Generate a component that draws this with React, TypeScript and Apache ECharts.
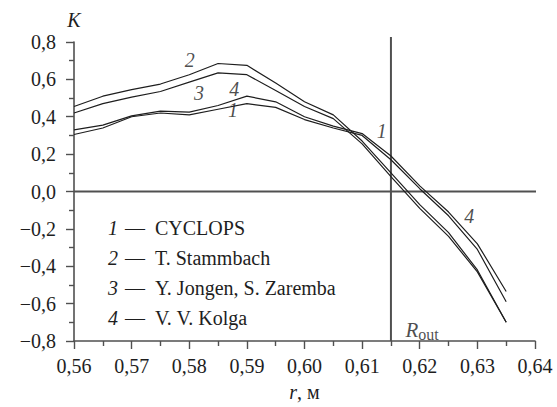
import React, { useEffect, useRef } from "react";
import * as echarts from "echarts";

// Radius grid, m
const radii = [0.56, 0.565, 0.57, 0.575, 0.58, 0.585, 0.59, 0.595, 0.6, 0.605, 0.61, 0.615, 0.62, 0.625, 0.63, 0.635];

// Coefficient K along the radius for each source
const cyclops = [0.305, 0.34, 0.4, 0.42, 0.41, 0.44, 0.47, 0.45, 0.385, 0.34, 0.3, 0.17, 0.015, -0.13, -0.31, -0.59];
const stammbach = [0.455, 0.51, 0.545, 0.575, 0.625, 0.685, 0.675, 0.58, 0.48, 0.41, 0.27, 0.1, -0.07, -0.22, -0.42, -0.7];
const jongen = [0.42, 0.47, 0.505, 0.535, 0.585, 0.635, 0.625, 0.54, 0.455, 0.39, 0.255, 0.08, -0.09, -0.24, -0.43, -0.7];
const kolga = [0.33, 0.355, 0.405, 0.43, 0.425, 0.46, 0.51, 0.48, 0.4, 0.35, 0.31, 0.19, 0.03, -0.11, -0.28, -0.535];

const seriesNames = ["CYCLOPS", "T. Stammbach", "Y. Jongen, S. Zaremba", "V. V. Kolga"];
const seriesValues = [cyclops, stammbach, jongen, kolga];

// Outer radius marker and where its caption sits
const rOut = 0.615;
const rOutCaption: [number, number] = [0.6204, -0.74];

// Curve number tags placed in data coordinates: [r, K, text]
const curveTags: [number, number, string][] = [
  [0.5801, 0.705, "2"],
  [0.5817, 0.528, "3"],
  [0.5878, 0.55, "4"],
  [0.5876, 0.437, "1"],
  [0.6134, 0.325, "1"],
  [0.6286, -0.13, "4"],
];

const SERIF = "Liberation Serif";
const INK = "#1e1e1e";
const AXIS = "#505050";

const fmtX = (v: number) => v.toFixed(2).replace(".", ",");
const fmtY = (v: number) => {
  const a = Math.abs(v) < 1e-9 ? 0 : v;
  return (a < 0 ? "\u2212" : "") + Math.abs(a).toFixed(1).replace(".", ",");
};

export default function App() {
  const ref = useRef<HTMLDivElement>(null);

  useEffect(() => {
    if (!ref.current) return;
    const chart = echarts.init(ref.current, undefined, { renderer: "svg" });

    const curves = seriesNames.map((name, i) => ({
      name,
      type: "line" as const,
      data: radii.map((r, j) => [r, seriesValues[i][j]]),
      symbol: "none",
      lineStyle: { color: INK, width: 1.2 },
      itemStyle: { color: INK },
      silent: true,
      z: 3,
    }));

    chart.setOption({
      animation: false,
      backgroundColor: "#ffffff",
      textStyle: { fontFamily: SERIF },
      grid: { left: 74, right: 22, top: 42, bottom: 66, containLabel: false },
      legend: {
        data: seriesNames,
        orient: "vertical",
        left: 98,
        top: 212,
        icon: "none",
        itemWidth: 0,
        itemGap: 8,
        selectedMode: false,
        formatter: (name: string) => `{n|${seriesNames.indexOf(name) + 1}}{g|\u2002}\u2014\u2002{t|${name}}`,
        textStyle: {
          fontFamily: SERIF,
          fontSize: 20,
          lineHeight: 22,
          color: INK,
          rich: {
            n: { fontFamily: SERIF, fontSize: 20, fontStyle: "italic", color: INK },
            g: { fontFamily: SERIF, fontSize: 14, color: INK },
            t: { fontFamily: SERIF, fontSize: 20, color: INK },
          },
        },
      },
      xAxis: {
        type: "value",
        min: 0.56,
        max: 0.64,
        interval: 0.01,
        name: "{i|r}{t|, м}",
        nameLocation: "middle",
        nameGap: 41,
        nameTextStyle: {
          fontFamily: SERIF,
          fontSize: 20,
          color: INK,
          rich: {
            i: { fontFamily: SERIF, fontSize: 20, fontStyle: "italic", color: INK },
            t: { fontFamily: SERIF, fontSize: 20, color: INK },
          },
        },
        axisLine: { show: true, onZero: false, lineStyle: { color: AXIS, width: 1.6 } },
        axisTick: { show: true, inside: false, length: 8, lineStyle: { color: AXIS, width: 1.4 } },
        minorTick: { show: true, splitNumber: 2, length: 5, lineStyle: { color: AXIS, width: 1.4 } },
        axisLabel: { formatter: fmtX, fontFamily: SERIF, fontSize: 20, color: INK, margin: 15 },
        splitLine: { show: false },
      },
      yAxis: {
        type: "value",
        min: -0.8,
        max: 0.8,
        interval: 0.2,
        name: "K",
        nameLocation: "end",
        nameGap: 12,
        nameTextStyle: { fontFamily: SERIF, fontSize: 20, fontStyle: "italic", color: INK, align: "center" },
        axisLine: { show: true, onZero: false, lineStyle: { color: AXIS, width: 1.6 } },
        axisTick: { show: true, inside: false, length: 8, lineStyle: { color: AXIS, width: 1.4 } },
        minorTick: { show: true, splitNumber: 2, length: 5, lineStyle: { color: AXIS, width: 1.4 } },
        axisLabel: { formatter: fmtY, fontFamily: SERIF, fontSize: 20, color: INK, margin: 18 },
        splitLine: { show: false },
      },
      series: [
        ...curves,
        {
          name: "zero",
          type: "line",
          data: [[0.56, 0], [0.6414, 0]],
          symbol: "none",
          clip: false,
          silent: true,
          lineStyle: { color: AXIS, width: 2 },
          z: 2,
        },
        {
          name: "Rout",
          type: "line",
          data: [[rOut, -0.8], [rOut, 0.827]],
          symbol: "none",
          clip: false,
          silent: true,
          lineStyle: { color: AXIS, width: 2 },
          z: 2,
        },
        {
          name: "RoutCaption",
          type: "scatter",
          data: [rOutCaption],
          symbolSize: 0,
          silent: true,
          label: {
            show: true,
            position: "inside",
            formatter: "{r|R}{s|out}",
            rich: {
              r: { fontFamily: SERIF, fontSize: 21, fontStyle: "italic", color: INK },
              s: { fontFamily: SERIF, fontSize: 16, color: INK, padding: [9, 0, 0, 0] },
            },
          },
          z: 4,
        },
        {
          name: "tags",
          type: "scatter",
          data: curveTags,
          symbolSize: 0,
          silent: true,
          label: {
            show: true,
            position: "inside",
            formatter: (p: any) => p.data[2],
            fontFamily: SERIF,
            fontSize: 20,
            fontStyle: "italic",
            color: INK,
          },
          z: 4,
        },
      ],
    });

    return () => chart.dispose();
  }, []);

  return <div ref={ref} style={{ width: 557, height: 407, position: "absolute", left: 0, top: 0 }} />;
}
